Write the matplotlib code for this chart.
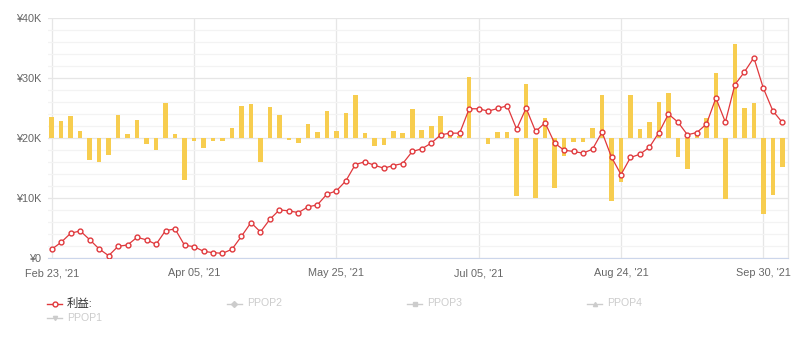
import numpy as np
import matplotlib.pyplot as plt
from matplotlib.lines import Line2D
from matplotlib.ticker import FuncFormatter, MultipleLocator

plt.rcParams['font.family'] = ['Liberation Sans', 'Noto Sans CJK JP', 'DejaVu Sans']

# profit line (yen)
profit = [1500, 2670, 4170, 4560, 3110, 1560, 440, 2000, 2220, 3500,
          3060, 2330, 4610, 4890, 2170, 1940, 1170, 940, 830, 1500,
          3670, 5940, 4390, 6500, 8060, 7890, 7610, 8560, 8890, 10670,
          11220, 12890, 15610, 16060, 15500, 15000, 15440, 15780, 17780, 18220,
          19170, 20560, 20830, 20830, 24890, 24890, 24500, 24940, 25390, 21500,
          25000, 21110, 22560, 19170, 18000, 17780, 17500, 18170, 21000, 16830,
          13940, 16780, 17330, 18500, 20940, 24000, 22670, 20560, 20940, 22330,
          26670, 22670, 28890, 31000, 33390, 28330, 24560, 22610]

# column series, drawn against a 20K threshold
ppop = [23500, 22800, 23700, 21200, 16300, 16100, 17200, 23900, 20700, 23100,
        19100, 18100, 25800, 20700, 13100, 19500, 18300, 19500, 19600, 21700,
        25300, 25700, 16100, 25200, 23800, 19700, 19200, 22300, 21000, 24500,
        21200, 24200, 27200, 20900, 18700, 18800, 21200, 20900, 24800, 21300,
        22000, 23700, 20700, 20300, 30200, 20000, 19000, 21000, 21000, 10300,
        29000, 10100, 23300, 11700, 17000, 19400, 19400, 21700, 27200, 9500,
        12700, 27100, 21500, 22700, 26100, 27500, 16800, 14800, 21100, 23300,
        30800, 9800, 35700, 25100, 25900, 7300, 10500, 15200]
threshold = 20000

tick_pos = [0, 15, 30, 45, 60, 75]
tick_labels = ["Feb 23, '21", "Apr 05, '21", "May 25, '21",
               "Jul 05, '21", "Aug 24, '21", "Sep 30, '21"]

legend_names = ['利益:', 'PPOP2', 'PPOP3', 'PPOP4', 'PPOP1']
legend_marks = ['o', 'D', 's', '^', 'v']

red = '#e0383c'
yellow = '#f7cd4f'
grey_txt = '#666666'
off = '#cccccc'

W, H = 794, 343
fig = plt.figure(figsize=(W / 100, H / 100), dpi=100)
ax = fig.add_axes([48 / W, 1 - 258.3 / H, (788 - 48) / W, (258.3 - 18) / H])

x = np.arange(len(profit))
ax.bar(x, np.array(ppop) - threshold, bottom=threshold, width=0.48,
       color=yellow, zorder=2)
ax.plot(x, profit, color=red, lw=0.9, marker='o', ms=3.5, mfc='white',
        mec=red, mew=1.0, zorder=3)

ax.set_xlim(-0.39, 77.6)
ax.set_ylim(0, 40000)
ax.yaxis.set_major_locator(MultipleLocator(10000))
ax.yaxis.set_minor_locator(MultipleLocator(2000))
ax.yaxis.set_major_formatter(FuncFormatter(
    lambda v, p: '¥0' if v == 0 else '¥%dK' % (v / 1000)))
ax.set_xticks(tick_pos)
ax.set_xticklabels(tick_labels)

ax.grid(axis='y', which='major', color='#e6e6e6', lw=0.9, zorder=0)
ax.grid(axis='y', which='minor', color='#f3f3f3', lw=0.9, zorder=0)
ax.grid(axis='x', which='major', color='#e6e6e6', lw=0.9, zorder=0)
ax.set_axisbelow(True)

ax.tick_params(axis='both', which='both', length=0, labelsize=7.8,
               labelcolor=grey_txt)
ax.tick_params(axis='y', pad=5)
ax.tick_params(axis='x', pad=7)

for s in ['top', 'left']:
    ax.spines[s].set_visible(False)
ax.spines['bottom'].set_color('#ccd6eb')
ax.spines['right'].set_color('#e6e6e6')
ax.spines['right'].set_linewidth(0.9)

# legend row below the plot, first entry active, the rest hidden
spots = [(47, 303.5), (227, 303.5), (407, 303.5), (587, 303.5), (47, 318)]
for (px, py), name, mk in zip(spots, legend_names, legend_marks):
    active = name == '利益:'
    c = red if active else off
    fy = 1 - py / H
    fig.add_artist(Line2D([px / W, (px + 15) / W], [fy, fy], color=c, lw=1,
                          transform=fig.transFigure))
    fig.add_artist(Line2D([(px + 7.5) / W], [fy], marker=mk,
                          ms=3.5 if active else 3,
                          mfc='white' if active else c, mec=c,
                          mew=1.0, transform=fig.transFigure))
    fig.text((px + 20) / W, fy, name, fontsize=8.2 if active else 7.6,
             va='center', color='#333333' if active else off)

fig.savefig('out.png', dpi=100, facecolor='white')
